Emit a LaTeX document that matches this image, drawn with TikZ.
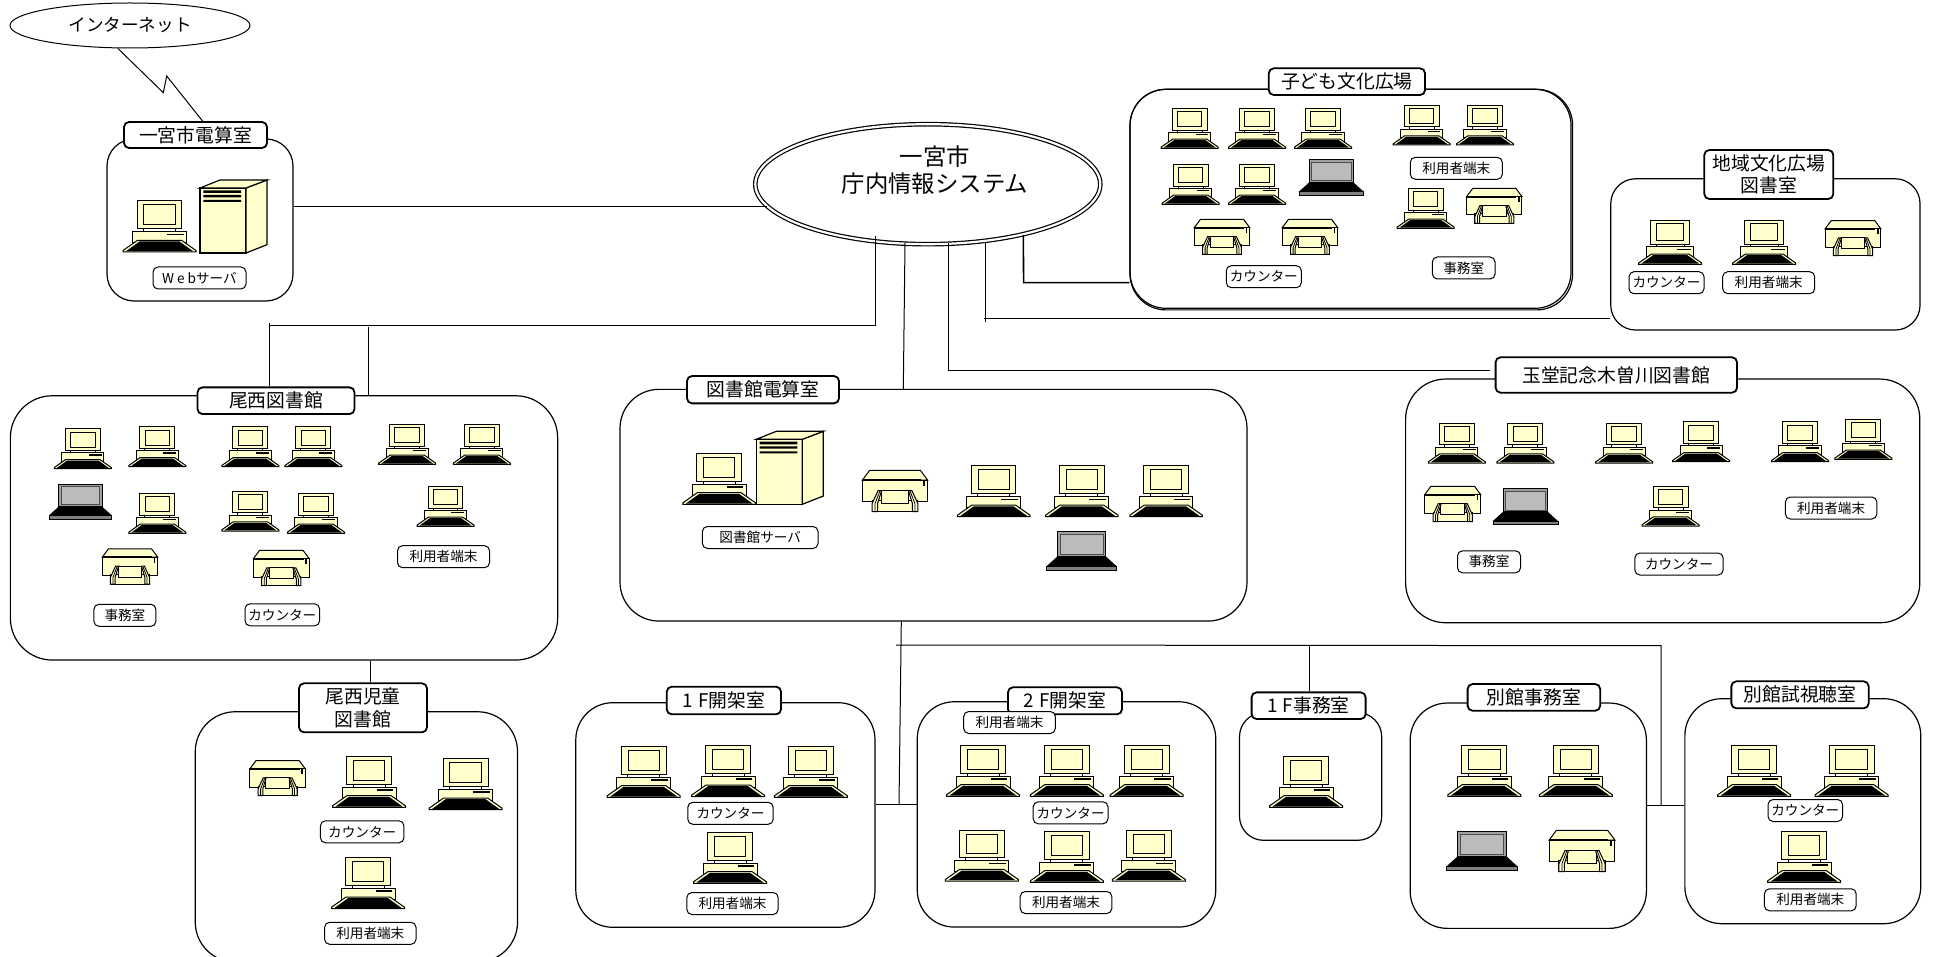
\documentclass[tikz,border=0pt]{standalone}
\usepackage{fontspec}
\setmainfont{Noto Sans CJK JP}
\usetikzlibrary{shapes.geometric}

\definecolor{crt}{HTML}{FFFFCC}
\definecolor{lcd}{HTML}{BBBBBB}

\tikzset{
  link/.style={draw=black,line width=.5pt},
  roomBox/.style n args={3}{draw=black,line width=.6pt,inner sep=0pt,minimum width=#1*.5pt,minimum height=#2*.5pt,rounded corners=#3*.5pt},
  roomTitle/.style 2 args={draw=black,fill=white,line width=.9pt,inner sep=0pt,rounded corners=2.5pt,align=center,minimum width=#1*.5pt,minimum height=#2*.5pt,font=\fontsize{9.4}{11.2}\selectfont},
  termTag/.style={draw=black,fill=white,line width=.5pt,inner sep=0pt,rounded corners=2.5pt,minimum height=11pt,minimum width=#1*.5pt,font=\fontsize{6.8}{8}\selectfont},
  pc/.pic={
    \filldraw[fill=crt,draw=black,line width=.5pt] (-22.4,-51) rectangle (22.4,-23.3);
    \draw[black,line width=.5pt] (-15.7,-47) rectangle (15.7,-27.3);
    \draw[black,line width=.5pt] (-16,-23.3) -- (-16,-20.3) (16,-23.3) -- (16,-20.3);
    \filldraw[fill=crt,draw=black,line width=.5pt] (-27,-20.3) rectangle (27,-9.3);
    \fill[black] (7.6,-18.3) rectangle (24,-16.7);
    \filldraw[fill=crt,draw=black,line width=.5pt] (-22,-11.7) -- (22,-11.7) -- (36.5,-1.5) -- (36.5,0) -- (-36.5,0) -- (-36.5,-1.5) -- cycle;
    \fill[black] (-20,-10.5) -- (20,-10.5) -- (33.5,-.8) -- (-33.5,-.8) -- cycle;
  },
  laptop/.pic={
    \filldraw[fill=gray!75,draw=black,line width=.4pt] (-24,-39) rectangle (24,-14);
    \filldraw[fill=lcd,draw=black!70,line width=.3pt] (-21.5,-36) rectangle (21.5,-16);
    \fill[black] (-24,-14) -- (24,-14) -- (35,-4) -- (-35,-4) -- cycle;
    \filldraw[fill=gray,draw=black,line width=.4pt] (-35,-4) rectangle (35,0);
  },
  printer/.pic={
    \filldraw[fill=crt,draw=black,line width=.5pt] (-25.5,-41.3) -- (25.5,-41.3) -- (32.7,-31.6) -- (-32.7,-31.6) -- cycle;
    \filldraw[fill=crt,draw=black,line width=.5pt] (-32.7,-31.6) rectangle (32.7,-10);
    \draw[black,line width=1pt] (-32.7,-31.6) -- (26,-31.6);
    \fill[black] (27.8,-31.6) rectangle (30,-25.3);
    \filldraw[fill=crt,draw=black,line width=.5pt] (-23,-11) rectangle (23,0);
    \filldraw[fill=crt,draw=black,line width=.5pt] (-14,-21) rectangle (14,-8);
    \filldraw[fill=crt,draw=black,line width=.5pt] (-17,-21) -- (-13.5,-21) -- (-17.5,-8) -- (-17.5,0) -- (-23,0) -- (-23,-8) -- cycle;
    \filldraw[fill=crt,draw=black,line width=.5pt] (17,-21) -- (13.5,-21) -- (17.5,-8) -- (17.5,0) -- (23,0) -- (23,-8) -- cycle;
    \draw[black,line width=.4pt] (-20,0) -- (-20,-8) -- (-15,-21) (20,0) -- (20,-8) -- (15,-21);
  },
  server/.pic={
    \filldraw[fill=crt,draw=black,line width=.6pt] (0,-65) rectangle (46,0);
    \filldraw[fill=crt,draw=black,line width=.6pt] (46,0) -- (67,-8.3) -- (67,-73) -- (46,-65) -- cycle;
    \filldraw[fill=crt,draw=black,line width=.6pt] (0,-65) -- (20,-73) -- (67,-73) -- (46,-65) -- cycle;
    \fill[black] (3.3,-62.7) rectangle (41,-60) (3.3,-58) rectangle (41,-55.7) (3.3,-53) rectangle (41,-51);
  }
}

\begin{document}
\begin{tikzpicture}[x=.5pt,y=-.5pt]

\useasboundingbox (0,0) rectangle (1933,957);
\clip (0,0) rectangle (1933,957);

% The two ovals
\node[ellipse,draw=black,line width=.5pt,inner sep=0pt,minimum width=240*.5pt,minimum height=45*.5pt,font=\fontsize{8.8}{10}\selectfont] (net) at (130,25.5) {インターネット\hspace{17pt}};
\node[ellipse,draw=black,line width=.6pt,double,double distance=1.1pt,inner sep=0pt,minimum width=345*.5pt,minimum height=120*.5pt] (honbu) at (927.8,184.2) {};
\node[align=center,inner sep=0pt,font=\fontsize{11.7}{13.6}\selectfont] (honbutext) at (935,170) {一宮市\\庁内情報システム};

% The rooms, the second outline of the kodomo room shows only below and right
\node[roomBox={186}{162}{27}] (webroom) at (200,220) {};
\node[roomBox={547.3}{264.3}{42}] (seiroom) at (284,527.9) {};
\node[roomBox={322.3}{250.3}{40}] (kidroom) at (356.4,836.9) {};
\node[roomBox={627}{231.7}{39}] (labroom) at (933.5,505.2) {};
\node[roomBox={299.2}{224.6}{37}] (open1room) at (725.4,815) {};
\node[roomBox={298.5}{225.3}{37}] (open2room) at (1066.5,814.4) {};
\node[roomBox={142.2}{127.6}{24}] (office1room) at (1310.6,776.5) {};
\node[roomBox={236.2}{225.3}{37}] (annexroom) at (1528.3,815.7) {};
\node[roomBox={235.9}{225}{37}] (trialroom) at (1802.8,811.2) {};
\node[roomBox={514.2}{243.7}{40}] (tamaroom) at (1662.7,500.9) {};
\node[roomBox={442.6}{220.6}{36}] (kodoback) at (1351.3,199.6) {};
\node[roomBox={441}{219}{36}] (kodoroom) at (1350.5,198.8) {};
\node[roomBox={309.3}{151.3}{25}] (cityroom) at (1765.4,254.4) {};

% The room titles
\node[roomTitle={143}{26}] (webtitle) at (195.5,135) {一宮市電算室};
\node[roomTitle={157}{26.7}] (seititle) at (276,400.7) {尾西図書館};
\node[roomTitle={128}{49}] (kidtitle) at (363,707.8) {尾西児童\\図書館};
\node[roomTitle={152}{27.3}] (labtitle) at (763,389.7) {図書館電算室};
\node[roomTitle={114.3}{27.6}] (open1title) at (723.9,700.5) {1\kern2.5pt F開架室};
\node[roomTitle={114}{27}] (open2title) at (1065,700.8) {2\kern2.5pt F開架室};
\node[roomTitle={114}{26.7}] (office1title) at (1308.6,705.7) {1\kern2.5pt F事務室};
\node[roomTitle={132.6}{26.7}] (annextitle) at (1533.9,697.4) {別館事務室};
\node[roomTitle={137.3}{27}] (trialtitle) at (1800,694.8) {別館試視聴室};
\node[roomTitle={241.4}{35.4}] (tamatitle) at (1616.3,375) {玉堂記念木曽川図書館};
\node[roomTitle={156.3}{26.7}] (kodotitle) at (1346.9,81.7) {子ども文化広場};
\node[roomTitle={129}{49}] (citytitle) at (1768.8,174.5) {地域文化広場\\図書室};

% The desktop machines x/y/width
\foreach \x/\y/\w in {159.5/252/73,719.2/504.3/72.6,
  82.8/468.7/57,157.3/466.7/57,250.3/466.7/57,313.4/466.7/57,407.2/464.3/57,481.8/464.3/57,
  157.3/533.3/57,250.3/531/57,316/533.3/57,445.5/526.3/57,
  369/807.3/73,465.6/809.7/73,368/908.7/73,
  993.7/516.7/72.6,1081.8/516.7/72.6,1166.1/516.7/72.6,
  643.7/797.3/73,728/796.7/73,810.9/797.3/73,730/883.3/73,
  983/796.3/73,1066.8/796.3/73,1146.7/796.3/73,981.8/881/73,1066.8/882.3/73,1148.8/881/73,
  1306.1/807.3/73,1484.3/796.3/73,1575.9/796.3/73,
  1754.2/796.3/73,1851.6/796.3/73,1804.2/882.3/73,
  1456.8/463/57,1525.4/463/57,1624.2/463/57,1701.1/461.7/57,1800/461.7/57,1863.3/459.3/57,1670.5/526/57,
  1189.7/148.3/57,1257/148.3/57,1323/148.3/57,1421.7/145/57,1485/145/57,
  1190.7/204.3/57,1257/204.3/57,1425.7/228.3/57,
  1670.2/264.3/63,1764.2/264.3/63}
  \pic[scale=\w/73] at (\x,\y) {pc};

% The laptops
\foreach \x/\y/\w in {80.4/519/62.8,1081.6/570.3/70.2,1482/870.3/70.7,1525.4/524.7/65,1331.3/195/64}
  \pic[scale=\w/70] at (\x,\y) {laptop};

% The printers
\foreach \x/\y/\w in {130/584/55.5,281.3/585.7/55.9,277.6/795.7/55.5,895/511.7/65.3,1582/871.7/65.6,
  1452.7/521.7/56,1494.3/223.3/55.3,1222/254.3/55.3,1310/254.3/55.3,1853/255.7/55.7}
  \pic[scale=\w/65.4] at (\x,\y) {printer};

% The two servers
\pic at (200,253) {server};
\pic at (756.3,504.3) {server};

% The small tags
\node[termTag=93] (webtag) at (199.5,278) {W\kern1.5pt e\kern1.5pt bサーバ};
\node[termTag=62] (seioffice) at (124.9,615.3) {事務室};
\node[termTag=74.6] (seicounter) at (282.3,614.8) {カウンター};
\node[termTag=92] (seiuser) at (443.5,556.7) {利用者端末};
\node[termTag=83.5] (kidcounter) at (362.2,831.8) {カウンター\hspace{6pt}};
\node[termTag=91.4] (kiduser) at (370.3,933.3) {利用者端末};
\node[termTag=115.6] (labserver) at (760.2,537.5) {図書館サーバ};
\node[termTag=85.4] (open1counter) at (730.5,813.3) {カウンター\hspace{6pt}};
\node[termTag=91.3] (open1user) at (732.5,903.5) {利用者端末};
\node[termTag=91.6] (open2top) at (1009.5,722.5) {利用者端末};
\node[termTag=74.8] (open2counter) at (1070.6,812.8) {カウンター};
\node[termTag=91.6] (open2user) at (1066,902.5) {利用者端末};
\node[termTag=74.5] (trialcounter) at (1805.3,810.5) {カウンター};
\node[termTag=91.8] (trialuser) at (1810.3,899.8) {利用者端末};
\node[termTag=63] (tamaoffice) at (1489,561.8) {事務室};
\node[termTag=88.3] (tamacounter) at (1679,564) {カウンター\hspace{9pt}};
\node[termTag=91.4] (tamauser) at (1831.1,508) {利用者端末};
\node[termTag=75] (kodocounter) at (1263.8,276.7) {カウンター};
\node[termTag=62.7] (kodooffice) at (1463.7,268) {事務室};
\node[termTag=92] (kodouser) at (1456.3,168.3) {利用者端末};
\node[termTag=75] (citycounter) at (1666.5,282.7) {カウンター};
\node[termTag=92] (cityuser) at (1768.7,282.7) {利用者端末};

% The free ends of the connectors
\coordinate (seiport) at (875.5,236);
\coordinate (seiturn) at (875.5,325.7);
\coordinate (seiwest) at (269.8,325.7);
\coordinate (seimid) at (368.5,327);
\coordinate (kidport) at (370.5,670);
\coordinate (labport) at (905,243);
\coordinate (tamaport) at (948.3,243);
\coordinate (tamaturn) at (948.3,370.5);
\coordinate (cityport) at (985,243);
\coordinate (cityfoot) at (985,321.7);
\coordinate (cityturn) at (984,319);
\coordinate (kodoport) at (1023.3,235);
\coordinate (kodoturn) at (1023.6,282.7);
\coordinate (labdown) at (901.3,640);
\coordinate (labjoin) at (899,804.7);
\coordinate (buswest) at (896,645);
\coordinate (buseast) at (1661,645.7);
\coordinate (officeport) at (1309.4,645);
\coordinate (annexjoin) at (1661,805.7);

% The connectors
\draw[link] (net.242) -- (163.3,92.7) -- (166.7,76) -- (webtitle.63);
\draw[link] (webroom.east |- honbu.188.5) -- (honbu.188.5);
\draw[link] (seiport) -- (seiturn) -- (seiwest);
\draw[link] (seiwest) ++(0,-3) -- (seiwest |- seititle.north);
\draw[link] (seimid) -- (seimid |- seiroom.north);
\draw[link] (seiroom.south -| kidport) -- (kidtitle.north -| kidport);
\draw[link] (labport) -- (903.3,389);
\draw[link] (tamaport) -- (tamaturn) -- ([xshift=-2.5pt]tamatitle.west |- tamaturn);
\draw[link] (cityport) -- (cityfoot);
\draw[link] (cityturn) -- (cityroom.west |- cityturn);
\draw[link,line width=.8pt] (kodoport) -- (kodoturn) -- (kodoroom.west |- kodoturn);
\draw[link] (labroom.south -| labdown) -- (labjoin);
\draw[link] (open1room.east |- labjoin) -- (open2room.west |- labjoin);
\draw[link] (buswest) -- (buseast) -- (annexjoin);
\draw[link] (officeport) -- (officeport |- office1title.north);
\draw[link] (annexroom.east |- annexjoin) -- (trialroom.west |- annexjoin);

\end{tikzpicture}
\end{document}
